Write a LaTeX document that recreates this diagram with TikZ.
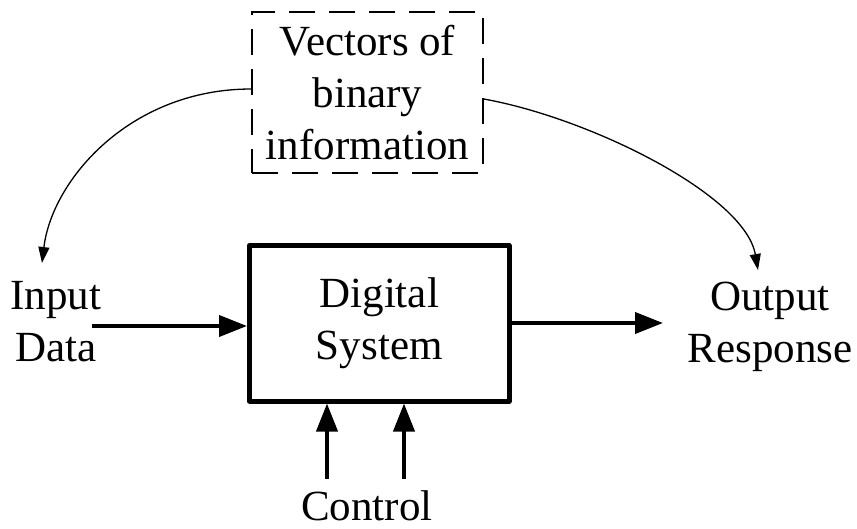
\documentclass[tikz,border=0pt]{standalone}
\usepackage{fontspec}
\setmainfont{Liberation Serif}
\usetikzlibrary{arrows.meta}
\begin{document}
\begin{tikzpicture}[x=1pt,y=-1pt,
  lbl/.style={font=\fontsize{43}{52}\selectfont, align=center, inner sep=0pt},
  dashbox/.style={draw, line width=1.5pt, dash pattern=on 26pt off 14pt},
  sysbox/.style={draw, line width=5pt, line join=round},
  thickarrow/.style={line width=4pt, -{Triangle[length=28pt, width=21pt]}},
  thinarrow/.style={line width=1.3pt, -{Triangle[length=16pt, width=11pt]}}
]
\useasboundingbox (0,0) rectangle (857,528);

\node[lbl, dashbox, minimum width=231pt, minimum height=161pt] (vec) at (367.5,92.5) {Vectors of\\binary\\information};
\node[lbl, sysbox, minimum width=259.5pt, minimum height=155.5pt] (ds) at (379.25,323.25) {Digital\\System};
\node[lbl] (in) at (56,322) {Input\\Data};
\node[lbl] (out) at (770,327) {Output\\Response};
\node[lbl, anchor=base] (ctl) at (367,520) {Control};

\coordinate (inA) at (92,326);
\coordinate (outA) at (663,323);
\coordinate (c1) at (327,479);
\coordinate (c2) at (404,479);
\coordinate (lt) at (42,263);
\coordinate (rt) at (758,270);

\draw[thickarrow] (inA) -- (inA -| ds.west);
\draw[thickarrow] (outA -| ds.east) -- (outA);
\draw[thickarrow] (c1) -- (c1 |- ds.south);
\draw[thickarrow] (c2) -- (c2 |- ds.south);

\draw[thinarrow] (vec.west |- 0,89) .. controls (130,89) and (52,180) .. (lt);
\draw[thinarrow] (vec.east |- 0,99) .. controls (590,118) and (745,195) .. (rt);
\end{tikzpicture}
\end{document}
